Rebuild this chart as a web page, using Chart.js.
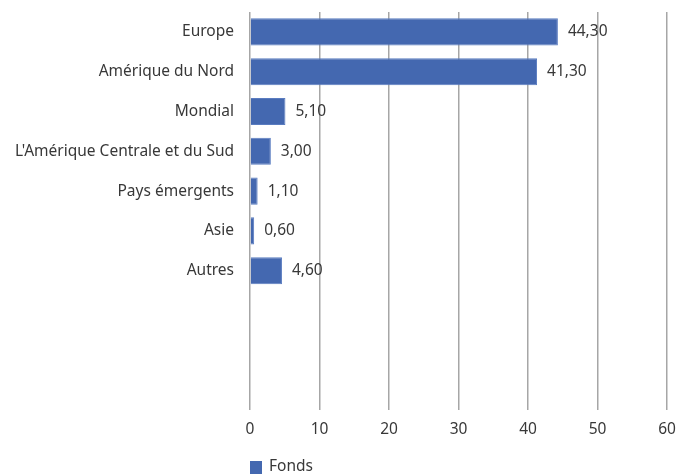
<!DOCTYPE html>
<html>
<head>
<meta charset="utf-8">
<script src="https://cdn.jsdelivr.net/npm/chart.js@4"></script>
<style>
  html, body { margin: 0; padding: 0; background: #fff; }
  #wrap { width: 679px; height: 474px; }
</style>
</head>
<body>
<div id="wrap"><canvas id="barChart"></canvas></div>
<script>
// data
const categories = ["Europe", "Amérique du Nord", "Mondial", "L'Amérique Centrale et du Sud",
  "Pays émergents", "Asie", "Autres", "", "", ""];
const fonds = [44.3, 41.3, 5.1, 3.0, 1.1, 0.6, 4.6, null, null, null];
const xTicks = [0, 10, 20, 30, 40, 50, 60];
const seriesName = "Fonds";

const FONT = "'Noto Sans', sans-serif";
const TEXT = "#383838";
const BLUE = "#4468b0";

// value labels at the end of the bars + legend drawn under the axis
const labelPlugin = {
  id: "labels",
  afterDatasetsDraw(chart) {
    const ctx = chart.ctx;
    const meta = chart.getDatasetMeta(0);
    ctx.save();
    ctx.font = "15.5px " + FONT;
    ctx.fillStyle = TEXT;
    ctx.textBaseline = "middle";
    ctx.textAlign = "left";
    meta.data.forEach((bar, i) => {
      const v = fonds[i];
      if (v == null) return;
      ctx.fillText(v.toFixed(2).replace(".", ","), bar.x + 10, bar.y);
    });
    // legend
    const x0 = chart.chartArea.left;
    ctx.fillStyle = BLUE;
    ctx.fillRect(x0, 461, 12, 13);
    ctx.fillStyle = TEXT;
    ctx.fillText(seriesName, x0 + 19, 467);
    ctx.restore();
  }
};

function noPad(scale) {
  scale.paddingTop = 0;
  scale.paddingBottom = 0;
  scale.paddingLeft = 0;
  scale.paddingRight = 0;
}

new Chart(document.getElementById("barChart"), {
  type: "bar",
  data: {
    labels: categories,
    datasets: [{
      label: seriesName,
      data: fonds,
      backgroundColor: BLUE,
      borderColor: "#5a7cc0",
      borderWidth: 1,
      categoryPercentage: 0.68,
      barPercentage: 1
    }]
  },
  options: {
    indexAxis: "y",
    responsive: true,
    maintainAspectRatio: false,
    animation: false,
    layout: { padding: { top: 12, right: 12, left: 0, bottom: 0 } },
    plugins: {
      legend: { display: false },
      tooltip: { enabled: false }
    },
    scales: {
      x: {
        min: 0,
        max: 60,
        afterBuildTicks(scale) { scale.ticks = xTicks.map(v => ({ value: v })); },
        afterFit(scale) { scale.height = 64; noPad(scale); },
        border: { display: false },
        grid: { color: "#a6a6a6", lineWidth: 1.5, drawTicks: false },
        ticks: { color: TEXT, font: { family: FONT, size: 15.5 }, padding: 10 }
      },
      y: {
        afterFit(scale) { scale.width = 250; noPad(scale); },
        border: { display: false },
        grid: { display: false, drawTicks: false },
        ticks: { color: TEXT, font: { family: FONT, size: 15.5 }, padding: 16, autoSkip: false }
      }
    }
  },
  plugins: [labelPlugin]
});
</script>
</body>
</html>
